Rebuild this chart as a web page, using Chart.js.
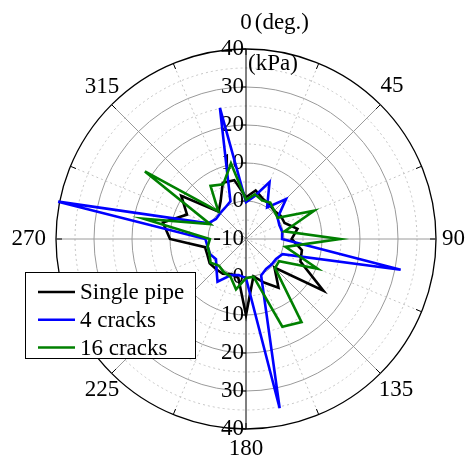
<!DOCTYPE html>
<html>
<head>
<meta charset="utf-8">
<script src="https://cdn.jsdelivr.net/npm/chart.js@4.4.0/dist/chart.umd.min.js"></script>
<style>
  html, body { margin: 0; padding: 0; background: #fff; }
</style>
</head>
<body>
<canvas id="canvas" width="471" height="457"></canvas>
<script>
// directions (deg.), one every 11.25
var angleLabels = ["0", "11.25", "22.5", "33.75", "45", "56.25", "67.5", "78.75",
                   "90", "101.25", "112.5", "123.75", "135", "146.25", "157.5", "168.75",
                   "180", "191.25", "202.5", "213.75", "225", "236.25", "247.5", "258.75",
                   "270", "281.25", "292.5", "303.75", "315", "326.25", "337.5", "348.75"];

// pressure (kPa)
var singlePipe    = [1, 3, 1.5, 1, 0.5, 1, 1, 3.8, 2, 5, 5.5, 14.5, 0.6, 5.4, 2.4, 0,
                     10, 0.4, 0, 1, 1.2, 1.5, 1, 1, 10, 12.3, 6.8, 10.5, 0.2, 2, 6, 5.8];
var fourCracks    = [-0.3, 1.5, 6.2, 0, 4.9, 0, -0.5, -0.3, -0.5, 31.5, 0.4, -0.5, -0.5, -0.5, 0.4, 35.4,
                     0.3, -0.3, 0.3, 3.5, 1, -0.5, 0.3, 0.3, 0.7, 40.4, 0.8, -0.5, -0.4, -0.1, 0.7, 25.2];
var sixteenCracks = [0.3, 2, 1, 1.5, 0.5, 0, 9.4, 0.3, 14.7, 0.6, 10.4, 0.5, 0.8, 16.3, 15, 0.1,
                     0.3, 3.5, 0.7, 0.5, 0, 1.2, 0.4, 0.3, -0.5, 17.4, 0.2, 22, 0.3, 6.8, 5.6, 10.3];

var seriesNames  = ["Single pipe", "4 cracks", "16 cracks"];
var seriesColors = ["#000000", "#0000ff", "#008000"];

var angleTickLabels = ["0", "45", "90", "135", "180", "225", "270", "315"];
var pressureTicks   = [40, 30, 20, 10, 0, -10];

var FONT = '23px "Liberation Serif", "Times New Roman", serif';

var decorations = {
  id: 'decorations',
  beforeDatasetsDraw: function(chart) {
    var r = chart.scales.r;
    var ctx = chart.ctx;
    var xc = r.xCenter, yc = r.yCenter, R = r.drawingArea;
    var n = angleLabels.length;
    ctx.save();

    // short inward ticks on the outer ring
    ctx.strokeStyle = '#000';
    ctx.lineWidth = 1;
    for (var i = 0; i < n; i += 2) {
      var a = r.getPointPosition(i, R);
      var b = r.getPointPosition(i, R - 6);
      ctx.beginPath(); ctx.moveTo(a.x, a.y); ctx.lineTo(b.x, b.y); ctx.stroke();
    }
    // ticks on the vertical axis
    pressureTicks.forEach(function(v) {
      if (v === -10) return;
      var t = r.getPointPositionForValue(0, v);
      var u = r.getPointPositionForValue(n / 2, v);
      ctx.beginPath();
      ctx.moveTo(xc - 5, t.y); ctx.lineTo(xc, t.y);
      ctx.moveTo(xc - 5, u.y); ctx.lineTo(xc, u.y);
      ctx.stroke();
    });

    // radial tick labels, up and down the vertical axis
    ctx.font = FONT;
    ctx.fillStyle = '#000';
    ctx.textAlign = 'right';
    ctx.textBaseline = 'middle';
    pressureTicks.forEach(function(v) {
      var top = r.getPointPositionForValue(0, v);
      ctx.fillText(String(v), xc - 2, top.y);
      if (v !== -10) {
        var bot = r.getPointPositionForValue(n / 2, v);
        ctx.fillText(String(v), xc - 2, bot.y);
      }
    });
    ctx.textAlign = 'left';
    ctx.fillText('(kPa)', xc + 2, r.getPointPositionForValue(0, 40).y + 15);

    // angle labels
    var w0 = ctx.measureText('0').width;
    ctx.textAlign = 'center';
    ctx.fillText(angleTickLabels[0], xc, yc - R - 26);
    ctx.textAlign = 'left';
    ctx.fillText('(deg.)', xc + w0 / 2 + 3, yc - R - 26);

    ctx.textAlign = 'center';
    ctx.fillText(angleTickLabels[1], xc + 146, yc - 153);
    ctx.fillText(angleTickLabels[3], xc + 150, yc + 151);
    ctx.fillText(angleTickLabels[5], xc - 144, yc + 151);
    ctx.fillText(angleTickLabels[7], xc - 144, yc - 152);
    ctx.textBaseline = 'top';
    ctx.fillText(angleTickLabels[4], xc, yc + R + 8);
    ctx.textBaseline = 'middle';
    ctx.textAlign = 'left';
    ctx.fillText(angleTickLabels[2], xc + R + 6, yc);
    ctx.textAlign = 'right';
    ctx.fillText(angleTickLabels[6], xc - R - 10, yc);
    ctx.restore();
  },
  afterDraw: function(chart) {
    var ctx = chart.ctx;
    ctx.save();
    var bx = 25, by = 272, bw = 170, bh = 86;
    ctx.fillStyle = '#fff';
    ctx.fillRect(bx, by, bw, bh);
    ctx.strokeStyle = '#000';
    ctx.lineWidth = 1;
    ctx.strokeRect(bx + 0.5, by + 0.5, bw, bh);
    ctx.font = FONT;
    ctx.textAlign = 'left';
    ctx.textBaseline = 'middle';
    chart.data.datasets.forEach(function(ds, i) {
      var y = by + 20 + i * 27.8;
      ctx.strokeStyle = ds.borderColor;
      ctx.lineWidth = 2.5;
      ctx.beginPath(); ctx.moveTo(bx + 13, y); ctx.lineTo(bx + 50, y); ctx.stroke();
      ctx.fillStyle = '#000';
      ctx.fillText(ds.label, bx + 55, y + 1);
    });
    ctx.restore();
  }
};

var data = {
  labels: angleLabels,
  datasets: [
    { label: seriesNames[0], data: singlePipe,    borderColor: seriesColors[0], order: 3 },
    { label: seriesNames[1], data: fourCracks,    borderColor: seriesColors[1], order: 2 },
    { label: seriesNames[2], data: sixteenCracks, borderColor: seriesColors[2], order: 1 }
  ]
};

var ctx = document.getElementById('canvas').getContext('2d');
var chart = new Chart(ctx, {
  type: 'radar',
  data: data,
  options: {
    responsive: false,
    animation: false,
    devicePixelRatio: 1,
    layout: { padding: { left: 56, right: 35, top: 49, bottom: 28 } },
    elements: {
      line: { borderWidth: 2.6, tension: 0, fill: false, borderJoinStyle: 'miter' },
      point: { radius: 0, hoverRadius: 0 }
    },
    plugins: { legend: { display: false }, tooltip: { enabled: false } },
    scales: {
      r: {
        min: -10,
        max: 40,
        startAngle: 0,
        ticks: { display: false, stepSize: 5 },
        pointLabels: { display: false },
        grid: {
          circular: true,
          color: function(c) {
            var v = c.tick ? c.tick.value : 0;
            if (v === 40) return '#000';
            return v % 10 === 0 ? '#9a9a9a' : '#c4c4c4';
          },
          lineWidth: function(c) { return c.tick && c.tick.value === 40 ? 1.3 : 1; }
        },
        border: {
          dash: function(c) { return c.tick && c.tick.value % 10 !== 0 ? [2, 3] : []; }
        },
        angleLines: {
          color: function(c) {
            if (c.index === 0 || c.index === 16) return '#000';
            if (c.index % 4 === 0) return '#9a9a9a';
            return '#c4c4c4';
          },
          lineWidth: function(c) { return c.index % 2 === 0 ? 1 : 0; },
          borderDash: function(c) { return c.index % 4 === 0 ? [] : [2, 3]; }
        }
      }
    }
  },
  plugins: [decorations]
});
</script>
</body>
</html>
